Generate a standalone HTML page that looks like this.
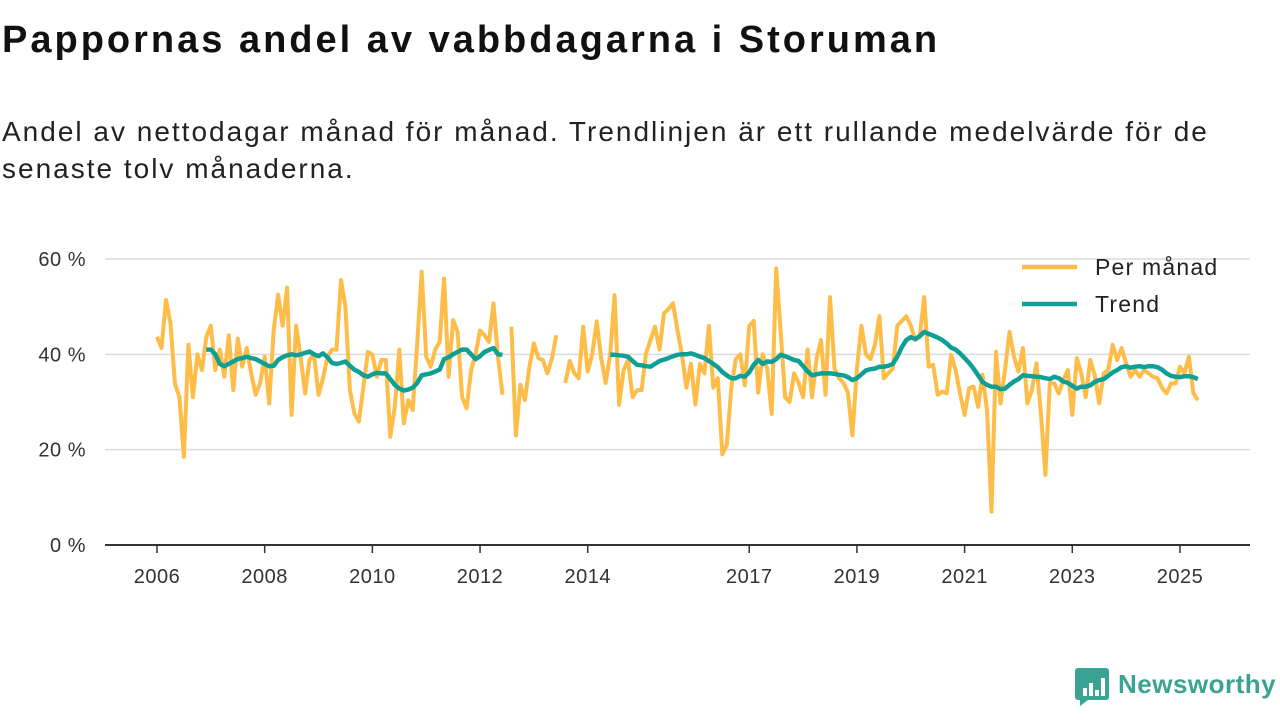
<!DOCTYPE html>
<html><head><meta charset="utf-8">
<style>
body{margin:0;background:#fff;width:1280px;height:720px;overflow:hidden;font-family:"Liberation Sans",sans-serif;}
#title{position:absolute;left:2px;top:19px;font-size:38px;font-weight:bold;color:#111;margin:0;letter-spacing:3px}
#sub{position:absolute;left:2px;top:113px;font-size:28px;line-height:37px;color:#222;width:1275px;letter-spacing:2px;white-space:nowrap}
svg{position:absolute;left:0;top:0}
</style></head><body>
<h1 id="title">Pappornas andel av vabbdagarna i Storuman</h1>
<div id="sub">Andel av nettodagar månad för månad. Trendlinjen är ett rullande medelvärde för de<br>senaste tolv månaderna.</div>
<svg id="chart" width="1280" height="720"></svg>
<script>
const startYear = 2006;
const monthly = [43.7,41.3,51.4,46.5,33.9,31,18.5,42,31,40,36.7,43.7,
46,36.7,41,35.3,44,32.5,43.3,37.4,41.3,36,31.5,34,
39.5,29.7,45,52.5,46,54,27.3,46,39.5,31.8,38.8,40,
31.5,35,39.5,41,41,55.6,50,32.5,27.6,25.9,33.2,40.5,
39.9,35.3,38.8,38.8,22.7,29,41,25.5,30.4,28.3,42.3,57.3,
39.5,37.4,41,42.6,55.9,35.3,47.2,44.7,31,28.7,36.7,40,
45,44,42.6,50.7,39.5,31.5,null,45.8,23,33.6,30.4,37.4,
42.3,39.2,38.8,36,39,44,null,34,38.6,36,35,45.8,
36.4,40,46.9,39.2,34,40,52.4,29.4,36.7,38.8,31,32.5,
32.5,40.2,43,45.8,41,48.6,49.5,50.7,45,40,33,38,
29.5,38,36,46,33,35,19,21,33,39,40,33.5,
46,47,32,40,37,27.5,58,45,31,30,36,34,
31,41,31,39,43,31.5,52,37,35,34,32,23,
37,46,40,39,42,48,35,36,37,46,47,48,
46,43,43.7,52,37.4,37.8,31.5,32.2,31.8,39.9,36.7,31.8,
27.3,32.9,33.2,29,35.7,28.3,7,40.5,29.7,36.7,44.7,39.5,
36.4,41.3,29.7,32.5,38.1,27.6,14.7,33.9,33.9,31.8,34.6,36.7,
27.3,39.2,36,31,38.8,35.7,29.7,36,36.7,42,38.8,41.3,
38.1,35.3,36.7,35.3,36.7,36,35.3,35,33,31.8,33.9,33.9,
37.4,36,39.5,31.8,30.4];
const trendA = [41,41,40,38,37.5,38,38.5,39,39.2,39.5,39.2,39,38.5,38,37.5,37.6,38.8,39.4,39.8,40,39.8,40,40.3,40.6,40,39.6,40.2,39.4,38.2,38,38.2,38.5,37.6,36.8,36.3,35.6,35.3,35.8,36.1,36,36,34.8,33.6,32.8,32.4,32.6,33,34,35.6,35.8,36,36.4,36.8,39,39.4,40,40.5,41,41,40,39,39.6,40.5,40.9,41.3,40,39.9];
const trendAStart = 11;
const trendB = [39.9,39.9,39.8,39.7,39.5,38.6,37.8,37.7,37.5,37.4,38,38.6,38.9,39.2,39.6,39.9,40,40,40.2,39.9,39.5,39.2,38.6,38,37.3,36.3,35.6,35,35,35.5,35.3,36.2,37.8,38.8,38,38.5,38.4,39,39.9,39.6,39.2,38.8,38.6,37.5,36.4,35.6,35.8,36,36,36,35.9,35.7,35.6,35.2,34.6,35,35.8,36.6,36.9,37,37.4,37.4,37.6,38,39.5,41.5,43,43.6,43.2,43.8,44.7,44.3,43.9,43.5,43,42.3,41.4,41,40.2,39.2,38.2,37,35.6,34.2,33.6,33.2,33.2,32.7,32.8,33.6,34.3,34.8,35.6,35.5,35.4,35.3,35.2,35,34.8,35.3,35,34.3,34,33.4,32.8,33.2,33.2,33.5,34.2,34.6,34.8,35.5,36.2,36.7,37.3,37.5,37.2,37.4,37.5,37.3,37.5,37.5,37.3,36.8,36,35.5,35.3,35.2,35.4,35.4,35.2,34.8];
const trendBStart = 101;
const yTicks = [0,20,40,60];
const yTickLabels = ["0 %","20 %","40 %","60 %"];
const xTickYears = [2006,2008,2010,2012,2014,2017,2019,2021,2023,2025];

const NS="http://www.w3.org/2000/svg";
const svg=document.getElementById('chart');
const x0=157, pxYear=53.84;
function xs(i){return x0+i*pxYear/12;}
function xYear(y){return x0+(y-startYear)*pxYear;}
function ys(v){return 545-v*4.767;}
function mk(t,a){const e=document.createElementNS(NS,t);for(const k in a)e.setAttribute(k,a[k]);svg.appendChild(e);return e;}

yTicks.forEach((v,k)=>{
  if(v>0){const g=mk('line',{x1:105,x2:1250,y1:ys(v),y2:ys(v),stroke:'#dcdcdc','stroke-width':1.5});
  
  }
  const t=mk('text',{x:86,y:ys(v)+7,'text-anchor':'end','font-size':20,fill:'#333','font-family':'Liberation Sans, sans-serif','letter-spacing':0.5});
  t.textContent=yTickLabels[k];
  
  
});
const ax=mk('line',{x1:105,x2:1250,y1:545,y2:545,stroke:'#333','stroke-width':2});


xTickYears.forEach(yr=>{
  const xx=xYear(yr);
  const tk=mk('line',{x1:xx,x2:xx,y1:545,y2:553,stroke:'#333','stroke-width':1.5});
  
  
  const t=mk('text',{x:xx,y:583,'text-anchor':'middle','font-size':20,fill:'#333','font-family':'Liberation Sans, sans-serif','letter-spacing':0.5});
  t.textContent=yr;
  
  
});
function pathFrom(arr,start){
  let d='',pen=false;
  arr.forEach((v,i)=>{
    if(v===null||v===undefined){pen=false;return;}
    d+=(pen?'L':'M')+xs(i+start).toFixed(1)+','+ys(v).toFixed(1);pen=true;
  });
  return d;
}
const p1=mk('path',{d:pathFrom(monthly,0),fill:'none',stroke:'#fdbd48','stroke-width':4,'stroke-linejoin':'round'});


const p2=mk('path',{d:pathFrom(trendA,trendAStart),fill:'none',stroke:'#0f9f94','stroke-width':4.5,'stroke-linejoin':'round'});


const p3=mk('path',{d:pathFrom(trendB,trendBStart),fill:'none',stroke:'#0f9f94','stroke-width':4.5,'stroke-linejoin':'round'});



[[267,'#fdbd48','Per månad'],[304,'#0f9f94','Trend']].forEach(([yy,c,l])=>{
  const g=mk('line',{x1:1022,x2:1077,y1:yy,y2:yy,stroke:c,'stroke-width':4.5});
  
  
  const t=mk('text',{x:1095,y:yy+8,'font-size':23,fill:'#222','font-family':'Liberation Sans, sans-serif','letter-spacing':1.2});
  t.textContent=l;
  
  
});
const lg=mk('path',{d:'M1078,668 h28 a3,3 0 0 1 3,3 v26 a3,3 0 0 1 -3,3 h-18 l-8,6 v-6 h-2 a3,3 0 0 1 -3,-3 v-26 a3,3 0 0 1 3,-3z',fill:'#3aa394'});


[[1083,688,4,8],[1089,683,4,13],[1095,690,4,6],[1101,678,4,18]].forEach(r=>{
  const b=mk('rect',{x:r[0],y:r[1],width:r[2],height:r[3],fill:'#fff'});
  
  
});
const lt=mk('text',{x:1118,y:693,'font-size':26,'font-weight':'bold',fill:'#3aa394','font-family':'Liberation Sans, sans-serif','letter-spacing':0.5});
lt.textContent='Newsworthy';


</script>
</body></html>
